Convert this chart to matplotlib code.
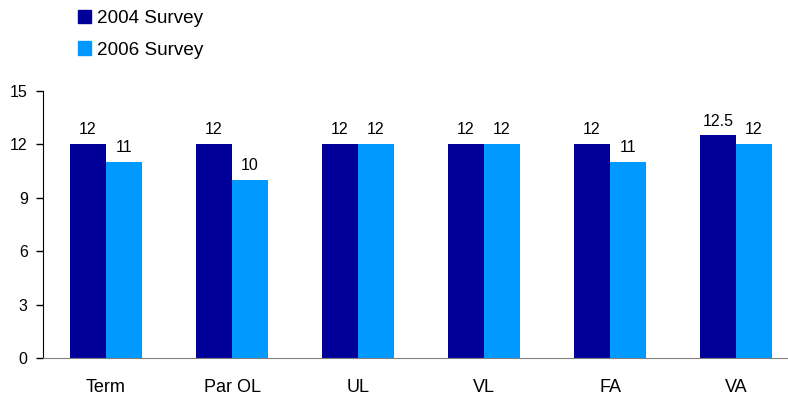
import numpy as np
import matplotlib.pyplot as plt
from matplotlib.patches import Patch

plt.rcParams['font.family'] = ['Liberation Sans', 'DejaVu Sans']

categories = ['Term', 'Par OL', 'UL', 'VL', 'FA', 'VA']
survey_2004 = [12, 12, 12, 12, 12, 12.5]
survey_2006 = [11, 10, 12, 12, 11, 12]
labels_2004 = ['12', '12', '12', '12', '12', '12.5']
labels_2006 = ['11', '10', '12', '12', '11', '12']

c2004 = '#000099'
c2006 = '#0099FF'

fig = plt.figure(figsize=(7.88, 3.98), dpi=100)
ax = fig.add_axes([0.0546, 0.1005, 0.9454, 0.6709])

x = np.arange(len(categories))
w = 0.286
b1 = ax.bar(x - w / 2, survey_2004, w, color=c2004)
b2 = ax.bar(x + w / 2, survey_2006, w, color=c2006)

for bars, labs in ((b1, labels_2004), (b2, labels_2006)):
    for bar, lab in zip(bars, labs):
        ax.annotate(lab, (bar.get_x() + bar.get_width() / 2, bar.get_height()),
                    xytext=(0, 5), textcoords='offset points',
                    ha='center', va='bottom', fontsize=11.5)

ax.set_ylim(0, 15)
ax.set_yticks([0, 3, 6, 9, 12, 15])
ax.set_xlim(-0.5, -0.5 + 745 / 126)
ax.set_xticks(x)
ax.set_xticklabels(categories, fontsize=13)
ax.tick_params(axis='x', length=0, pad=15)
ax.tick_params(axis='y', labelsize=11.5, length=5, width=1, direction='out', pad=6)

for s in ('top', 'right'):
    ax.spines[s].set_visible(False)
ax.spines['left'].set_color('black')
ax.spines['bottom'].set_color('#808080')

handles = [Patch(color=c2004, label='2004 Survey'),
           Patch(color=c2006, label='2006 Survey')]
fig.legend(handles=handles, loc='upper left', bbox_to_anchor=(78 / 788, 1 - 10 / 398),
           frameon=False, fontsize=13.6, borderpad=0, borderaxespad=0,
           handlelength=0.7, handleheight=0.7,
           handletextpad=0.3, labelspacing=0.75)

fig.savefig('out.png', dpi=100)
